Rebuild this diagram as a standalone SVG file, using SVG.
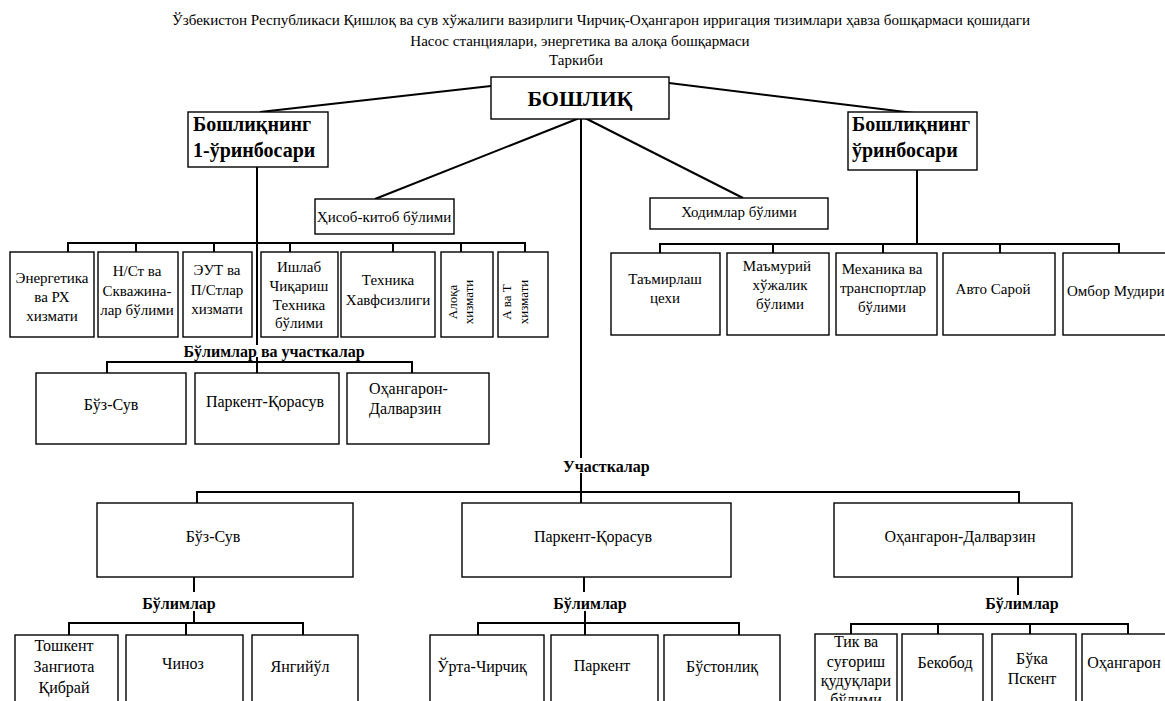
<svg xmlns="http://www.w3.org/2000/svg" width="1165" height="701" viewBox="0 0 1165 701">
<style>
text{font-family:"Liberation Serif","Times New Roman",serif;fill:#000}
.t{font-size:15px}
.c{text-anchor:middle}
.m{font-size:16px}
.b{font-weight:bold}
.box{fill:#fff;stroke:#000;stroke-width:1.4}
.ln{stroke:#000;stroke-width:2;fill:none}
.r{font-size:13px}
</style>
<rect x="0" y="0" width="1165" height="701" fill="#fff"/>
<g id="title">
<text class="t c" x="601" y="25" textLength="858" lengthAdjust="spacingAndGlyphs">Ўзбекистон Республикаси Қишлоқ ва сув хўжалиги вазирлиги Чирчиқ-Оҳангарон ирригация тизимлари ҳавза бошқармаси қошидаги</text>
<text class="t c" x="580" y="46">Насос станциялари, энергетика ва алоқа бошқармаси</text>
<text class="t c" x="576" y="65">Таркиби</text>
</g>
<g id="connectors">
<line class="ln" x1="491" y1="86" x2="260" y2="112"/>
<line class="ln" x1="669" y1="83" x2="914" y2="113"/>
<line class="ln" x1="582" y1="117" x2="375" y2="199"/>
<line class="ln" x1="583" y1="117" x2="743" y2="198"/>
<line class="ln" x1="581" y1="117" x2="581" y2="458"/>
<line class="ln" x1="581" y1="473" x2="581" y2="503"/>
<line class="ln" x1="257" y1="167" x2="257" y2="345"/>
<polyline class="ln" points="68,252 68,243 525,243 525,252"/>
<line class="ln" x1="136" y1="243" x2="136" y2="252"/>
<line class="ln" x1="214" y1="243" x2="214" y2="252"/>
<line class="ln" x1="290" y1="243" x2="290" y2="252"/>
<line class="ln" x1="393" y1="243" x2="393" y2="252"/>
<line class="ln" x1="461" y1="243" x2="461" y2="252"/>
<line class="ln" x1="257" y1="357" x2="257" y2="373"/>
<polyline class="ln" points="107,373 107,362 412,362 412,373"/>
<line class="ln" x1="917" y1="170" x2="917" y2="244"/>
<polyline class="ln" points="660,253 660,244 1119,244 1119,253"/>
<line class="ln" x1="773" y1="244" x2="773" y2="253"/>
<line class="ln" x1="883" y1="244" x2="883" y2="253"/>
<line class="ln" x1="1000" y1="244" x2="1000" y2="253"/>
<polyline class="ln" points="197,503 197,492 1019,492 1019,503"/>
<line class="ln" x1="194" y1="577" x2="194" y2="592"/>
<line class="ln" x1="194" y1="611" x2="194" y2="623"/>
<polyline class="ln" points="69,635 69,623 303,623 303,635"/>
<line class="ln" x1="186" y1="623" x2="186" y2="635"/>
<line class="ln" x1="584" y1="577" x2="584" y2="592"/>
<line class="ln" x1="585" y1="611" x2="585" y2="635"/>
<polyline class="ln" points="478,635 478,623 739,623 739,635"/>
<line class="ln" x1="1018" y1="577" x2="1018" y2="595"/>
<polyline class="ln" points="851,634 851,624 1128,624 1128,634"/>
<line class="ln" x1="938" y1="624" x2="938" y2="634"/>
<line class="ln" x1="1030" y1="624" x2="1030" y2="634"/>
</g>
<g id="boshliq"><rect class="box" x="491" y="77" width="178" height="42"/><text class="b c" style="font-size:22px" x="580" y="106">БОШЛИҚ</text></g>
<g id="deputy1"><rect class="box" x="188" y="112" width="140" height="55"/><text class="b" style="font-size:20px" x="193" y="131">Бошлиқнинг</text><text class="b" style="font-size:20px" x="193" y="157">1-ўринбосари</text></g>
<g id="deputy2"><rect class="box" x="848" y="112" width="129" height="58"/><text class="b" style="font-size:20px" x="852" y="131">Бошлиқнинг</text><text class="b" style="font-size:20px" x="852" y="157">ўринбосари</text></g>
<g id="hisob"><rect class="box" x="315" y="199" width="139" height="35"/><text class="t c" x="384" y="222">Ҳисоб-китоб бўлими</text></g>
<g id="xodimlar"><rect class="box" x="650" y="198" width="178" height="31"/><text class="t c" x="739" y="217">Ходимлар бўлими</text></g>
<g id="energetika"><rect class="box" x="10" y="252" width="84" height="85"/><text class="t c" x="52" y="283">Энергетика</text><text class="t c" x="52" y="302">ва РХ</text><text class="t c" x="52" y="321">хизмати</text></g>
<g id="nst"><rect class="box" x="98" y="252" width="80" height="85"/><text class="t c" x="137" y="276">Н/Ст ва</text><text class="t c" x="137" y="296">Скважина-</text><text class="t c" x="137" y="315">лар бўлими</text></g>
<g id="eut"><rect class="box" x="183" y="252" width="69" height="85"/><text class="t c" x="217" y="275">ЭУТ ва</text><text class="t c" x="217" y="295">П/Стлар</text><text class="t c" x="217" y="314">хизмати</text></g>
<g id="ishlab"><rect class="box" x="261" y="252" width="77" height="85"/><text class="t c" x="299" y="272">Ишлаб</text><text class="t c" x="299" y="291">Чиқариш</text><text class="t c" x="299" y="310">Техника</text><text class="t c" x="299" y="328">бўлими</text></g>
<g id="texnika"><rect class="box" x="341" y="252" width="94" height="85"/><text class="t c" x="388" y="285">Техника</text><text class="t c" x="388" y="305">Хавфсизлиги</text></g>
<g id="aloqa"><rect class="box" x="441" y="252" width="52" height="85"/><text class="r c" transform="translate(457,302) rotate(-90)">Алоқа</text><text class="r c" transform="translate(473,302) rotate(-90)">хизмати</text></g>
<g id="avat"><rect class="box" x="498" y="252" width="50" height="85"/><text class="r c" transform="translate(511,302) rotate(-90)">А ва Т</text><text class="r c" transform="translate(528,302) rotate(-90)">хизмати</text></g>
<text class="m b c" x="274" y="357">Бўлимлар ва участкалар</text>
<g id="buzsuv1"><rect class="box" x="36" y="373" width="150" height="71"/><text class="m c" x="111" y="410">Бўз-Сув</text></g>
<g id="parkent1"><rect class="box" x="195" y="373" width="144" height="71"/><text class="m c" x="265" y="407">Паркент-Қорасув</text></g>
<g id="oxangaron1"><rect class="box" x="347" y="373" width="142" height="71"/><text class="m" x="369" y="394">Оҳангарон-</text><text class="m" x="369" y="414">Далварзин</text></g>
<g id="tamirlash"><rect class="box" x="611" y="253" width="109" height="82"/><text class="t c" x="665" y="284">Таъмирлаш</text><text class="t c" x="665" y="303">цехи</text></g>
<g id="mamuriy"><rect class="box" x="727" y="253" width="102" height="82"/><text class="t c" x="777" y="271">Маъмурий</text><text class="t c" x="780" y="290">хўжалик</text><text class="t c" x="780" y="309">бўлими</text></g>
<g id="mexanika"><rect class="box" x="836" y="253" width="101" height="82"/><text class="t c" x="882" y="274">Механика ва</text><text class="t c" x="883" y="293">транспортлар</text><text class="t c" x="882" y="312">бўлими</text></g>
<g id="avto"><rect class="box" x="943" y="253" width="112" height="82"/><text class="t c" x="993" y="294">Авто Сарой</text></g>
<g id="ombor"><rect class="box" x="1063" y="253" width="110" height="82"/><text class="t" x="1067" y="296">Омбор Мудири</text></g>
<text class="m b" x="563" y="472">Участкалар</text>
<g id="buzsuv2"><rect class="box" x="97" y="503" width="256" height="74"/><text class="m c" x="213" y="542">Бўз-Сув</text></g>
<g id="parkent2"><rect class="box" x="462" y="503" width="269" height="74"/><text class="m c" x="593" y="542">Паркент-Қорасув</text></g>
<g id="oxangaron2"><rect class="box" x="834" y="503" width="238" height="74"/><text class="m c" x="960" y="542">Оҳангарон-Далварзин</text></g>
<text class="m b c" x="179" y="609">Бўлимлар</text>
<text class="m b c" x="590" y="609">Бўлимлар</text>
<text class="m b c" x="1022" y="609">Бўлимлар</text>
<g id="toshkent"><rect class="box" x="15" y="635" width="103" height="80"/><text class="m c" x="64" y="651">Тошкент</text><text class="m c" x="64" y="672">Зангиота</text><text class="m c" x="64" y="693">Қибрай</text></g>
<g id="chinoz"><rect class="box" x="126" y="635" width="117" height="80"/><text class="m c" x="183" y="669">Чиноз</text></g>
<g id="yangiyul"><rect class="box" x="252" y="635" width="106" height="80"/><text class="m c" x="300" y="672">Янгийўл</text></g>
<g id="urta"><rect class="box" x="430" y="635" width="114" height="80"/><text class="m c" x="482" y="672">Ўрта-Чирчиқ</text></g>
<g id="parkent3"><rect class="box" x="551" y="635" width="107" height="80"/><text class="m c" x="602" y="671">Паркент</text></g>
<g id="bustonliq"><rect class="box" x="664" y="635" width="116" height="80"/><text class="m c" x="722" y="672">Бўстонлиқ</text></g>
<g id="tik"><rect class="box" x="815" y="634" width="82" height="80"/><text class="m c" x="856" y="647">Тик ва</text><text class="m c" x="856" y="667">суғориш</text><text class="m c" x="856" y="686">қудуқлари</text><text class="m c" x="856" y="705">бўлими</text></g>
<g id="bekobod"><rect class="box" x="902" y="634" width="81" height="80"/><text class="m c" x="945" y="668">Бекобод</text></g>
<g id="buka"><rect class="box" x="992" y="634" width="84" height="80"/><text class="m c" x="1032" y="664">Бўка</text><text class="m c" x="1032" y="684">Пскент</text></g>
<g id="oxangaron3"><rect class="box" x="1082" y="634" width="95" height="80"/><text class="m c" x="1124" y="668">Оҳангарон</text></g>
</svg>
